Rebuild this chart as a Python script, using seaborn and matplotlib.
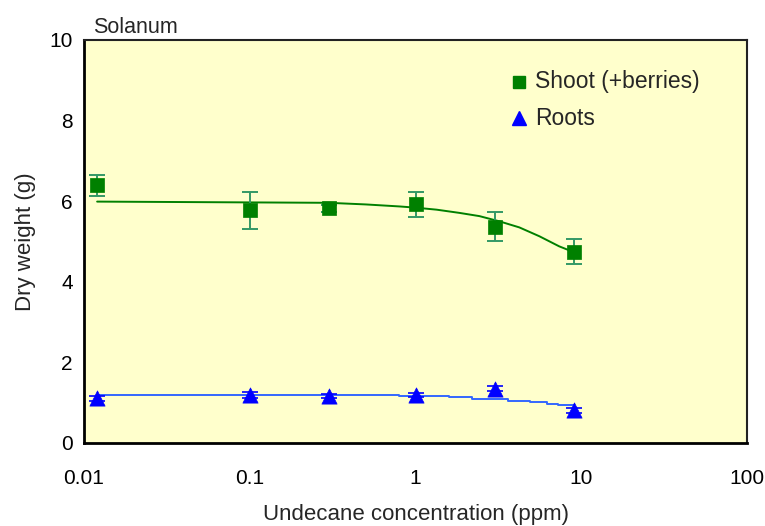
import matplotlib
matplotlib.use("Agg")
import matplotlib.pyplot as plt
import matplotlib.ticker as mticker
import seaborn as sns
import pandas as pd
import numpy as np

# Measured dry weights (g) against undecane concentration (ppm)
conc = [0.012, 0.1, 0.3, 1.0, 3.0, 9.0]
shoot = [6.39, 5.77, 5.82, 5.92, 5.37, 4.75]
shoot_err = [0.25, 0.45, 0.08, 0.30, 0.35, 0.32]
roots = [1.11, 1.19, 1.16, 1.19, 1.35, 0.81]
roots_err = [0.06, 0.07, 0.05, 0.05, 0.06, 0.06]

# Fitted response curves
shoot_fit_x = [0.012, 0.3, 0.5, 0.8, 1.0, 1.34, 1.84, 2.43, 3.21, 4.23, 5.59, 7.36, 8.47, 9.0]
shoot_fit_y = [5.99, 5.96, 5.92, 5.87, 5.84, 5.79, 5.71, 5.63, 5.50, 5.35, 5.13, 4.88, 4.78, 4.70]
roots_fit_x = [0.012, 0.8, 1.6, 2.2, 3.6, 4.9, 6.2, 7.2, 9.0]
roots_fit_y = [1.19, 1.16, 1.13, 1.09, 1.05, 1.01, 0.97, 0.94, 0.94]

x_ticks = [0.01, 0.1, 1, 10, 100]
x_tick_labels = ["0.01", "0.1", "1", "10", "100"]
y_ticks = [0, 2, 4, 6, 8, 10]

sns.set_theme(style="white")
fam = ["Liberation Sans Narrow", "Liberation Sans", "DejaVu Sans"]
plt.rcParams["font.family"] = fam

GREEN = "#008000"
ERR_GREEN = "#339966"
BLUE = "#0000FF"
LINE_BLUE = "#3366FF"

fig = plt.figure(figsize=(7.65, 5.26), dpi=100)
ax = fig.add_axes([84 / 765, 83 / 526, 663 / 765, 403 / 526])
ax.set_facecolor("#FFFFCC")

pts = pd.DataFrame({"conc": conc, "shoot": shoot, "roots": roots})
sfit = pd.DataFrame({"x": shoot_fit_x, "y": shoot_fit_y})
rfit = pd.DataFrame({"x": roots_fit_x, "y": roots_fit_y})

sns.lineplot(data=sfit, x="x", y="y", ax=ax, color=GREEN, lw=1.4, zorder=2)
sns.lineplot(data=rfit, x="x", y="y", ax=ax, color=LINE_BLUE, lw=1.4,
             drawstyle="steps-post", zorder=2)

ax.errorbar(conc, shoot, yerr=shoot_err, fmt="none", ecolor=ERR_GREEN,
            elinewidth=1.4, capsize=6, capthick=1.4, zorder=3)
ax.errorbar(conc, roots, yerr=roots_err, fmt="none", ecolor=BLUE,
            elinewidth=1.2, capsize=6, capthick=1.2, zorder=3)

sns.scatterplot(data=pts, x="conc", y="shoot", ax=ax, marker="s", s=110,
                color=GREEN, edgecolor=GREEN, linewidth=0.5, zorder=4)
sns.scatterplot(data=pts, x="conc", y="roots", ax=ax, marker="^", s=120,
                color=BLUE, edgecolor=BLUE, linewidth=0.5, zorder=4)

ax.set_xscale("log")
ax.set_xlim(0.01, 100)
ax.set_ylim(0, 10)
ax.set_xticks(x_ticks)
ax.set_xticklabels(x_tick_labels)
ax.xaxis.set_minor_locator(mticker.LogLocator(base=10, subs=np.arange(2, 10)))
ax.xaxis.set_minor_formatter(mticker.NullFormatter())
ax.set_yticks(y_ticks)
ax.yaxis.set_minor_locator(mticker.MultipleLocator(1))

ax.tick_params(axis="both", which="major", direction="in", length=6, width=1.2,
               labelsize=15, colors="black", pad=8)
ax.tick_params(axis="both", which="minor", direction="in", length=4, width=1.0)
ax.tick_params(axis="x", which="major", pad=19)

for side in ["left", "bottom"]:
    ax.spines[side].set_linewidth(2.0)
    ax.spines[side].set_color("black")
for side in ["top", "right"]:
    ax.spines[side].set_linewidth(1.5)
    ax.spines[side].set_color("#222222")

ax.set_xlabel("Undecane concentration (ppm)", fontsize=16, labelpad=11)
ax.set_ylabel("Dry weight (g)", fontsize=16, labelpad=10)
ax.text(0.013, 1.005, "Solanum", transform=ax.transAxes, fontsize=15.5,
        ha="left", va="bottom")

# Legend entries
ax.plot([0.656], [0.896], transform=ax.transAxes, marker="s", ms=9,
        color=GREEN, ls="none")
ax.text(0.68, 0.896, "Shoot (+berries)", transform=ax.transAxes,
        fontsize=16.5, va="center")
ax.plot([0.656], [0.806], transform=ax.transAxes, marker="^", ms=10,
        color=BLUE, ls="none")
ax.text(0.68, 0.806, "Roots", transform=ax.transAxes, fontsize=16.5,
        va="center")

fig.savefig("out.png", dpi=100, facecolor="white")
